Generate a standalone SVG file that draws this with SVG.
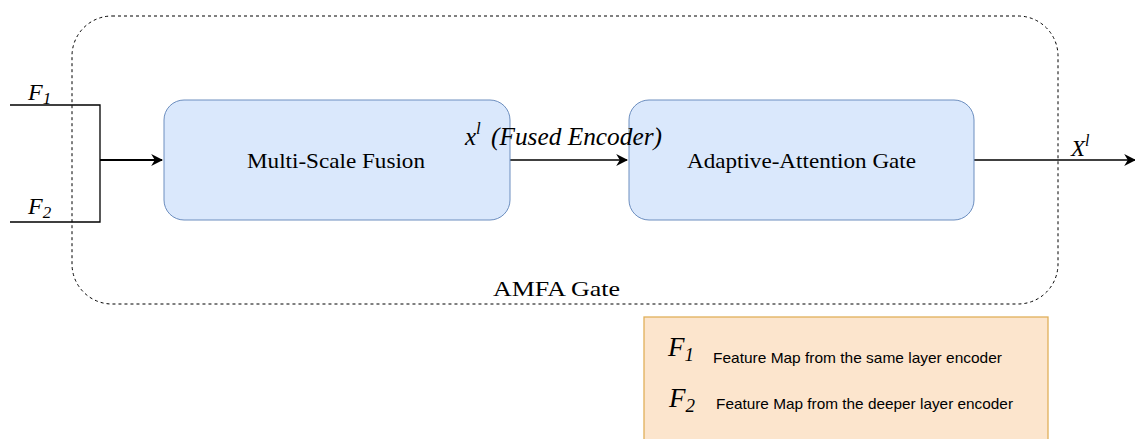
<svg xmlns="http://www.w3.org/2000/svg" width="1135" height="439" viewBox="0 0 1135 439">
<style>
.box{fill:#dae8fc;stroke:#6c8ebf;stroke-width:1}
.lbl{font-family:"Liberation Serif",serif;font-size:22px;fill:#000}
.math{font-family:"Liberation Serif",serif;font-style:italic;fill:#000}
.sans{font-family:"Liberation Sans",sans-serif;font-size:15px;fill:#000}
.ln{stroke:#000;fill:none}
</style>
<defs>
<marker id="ah2" viewBox="0 0 10 10" refX="9" refY="5" markerWidth="12" markerHeight="12" markerUnits="userSpaceOnUse" orient="auto">
<path d="M0,0 L10,5 L0,10 L3,5 Z" fill="#000"/>
</marker>
</defs>
<g id="amfa-gate">
<rect x="72" y="16" width="986" height="288" rx="40" ry="40" fill="none" stroke="#000" stroke-width="1" stroke-dasharray="3,3"/>
<text class="lbl" x="493" y="296" font-size="24" textLength="127" lengthAdjust="spacingAndGlyphs">AMFA Gate</text>
</g>
<g id="connectors">
<path class="ln" d="M10,105 H100 V222 H10" stroke-width="1.3"/>
<path class="ln" d="M100,160 H162" stroke-width="2" marker-end="url(#ah2)"/>
<path class="ln" d="M510,160 H627" stroke-width="1.3" marker-end="url(#ah2)"/>
<path class="ln" d="M974,160 H1135" stroke-width="1.3" marker-end="url(#ah2)"/>
</g>
<g id="f1-label"><text class="math" x="28" y="100" font-size="24">F<tspan font-size="17" dy="4">1</tspan></text></g>
<g id="f2-label"><text class="math" x="28" y="214" font-size="24">F<tspan font-size="17" dy="4">2</tspan></text></g>
<g id="multi-scale-fusion">
<rect class="box" x="164" y="100" width="346" height="120" rx="20" ry="20"/>
<text class="lbl" x="247" y="168" textLength="178" lengthAdjust="spacingAndGlyphs">Multi-Scale Fusion</text>
</g>
<g id="adaptive-attention-gate">
<rect class="box" x="629" y="100" width="345" height="120" rx="20" ry="20"/>
<text class="lbl" x="687" y="168" textLength="229" lengthAdjust="spacingAndGlyphs">Adaptive-Attention Gate</text>
</g>
<g id="fused-label">
<text class="math" x="465" y="145" font-size="25">x<tspan font-size="17" dy="-11">l</tspan></text>
<text class="math" x="491" y="145" font-size="25" textLength="171" lengthAdjust="spacingAndGlyphs">(Fused Encoder)</text>
</g>
<g id="output-label"><text class="math" x="1071" y="156" font-size="23">X<tspan font-size="16" dy="-10">l</tspan></text></g>
<g id="legend">
<rect x="644" y="317" width="404" height="130" fill="#fce5cd" stroke="#e0b05a" stroke-width="1.3"/>
<text class="math" x="668" y="356" font-size="27">F<tspan font-size="19" dy="5">1</tspan></text>
<text class="sans" x="713" y="363" textLength="289" lengthAdjust="spacingAndGlyphs">Feature Map from the same layer encoder</text>
<text class="math" x="669" y="407" font-size="27">F<tspan font-size="19" dy="5">2</tspan></text>
<text class="sans" x="716" y="409" textLength="297" lengthAdjust="spacingAndGlyphs">Feature Map from the deeper layer encoder</text>
</g>
</svg>
